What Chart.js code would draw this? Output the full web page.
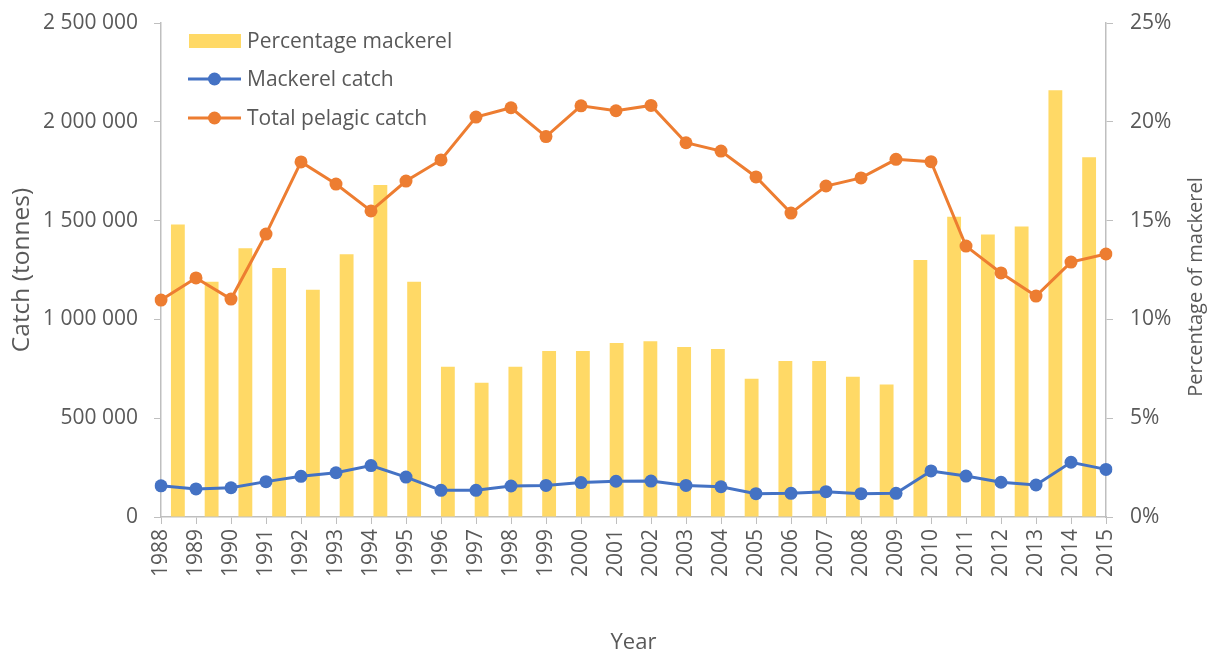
<!DOCTYPE html>
<html>
<head>
<meta charset="utf-8">
<script src="https://cdn.jsdelivr.net/npm/chart.js@4/dist/chart.umd.min.js"></script>
<style>
  html, body { margin: 0; padding: 0; background: #fff; }
  #wrap { position: relative; width: 1211px; height: 654px; }
</style>
</head>
<body>
<div id="wrap"><canvas id="catchChart"></canvas></div>
<script>
// Data
var years = ['1988', '1989', '1990', '1991', '1992', '1993', '1994', '1995', '1996', '1997',
    '1998', '1999', '2000', '2001', '2002', '2003', '2004', '2005', '2006', '2007',
    '2008', '2009', '2010', '2011', '2012', '2013', '2014', '2015'];

var percentageMackerel = [14.8, 11.9, 13.6, 12.6, 11.5, 13.3, 16.8, 11.9, 7.6, 6.8,
    7.6, 8.4, 8.4, 8.8, 8.9, 8.6, 8.5, 7.0, 7.9, 7.9,
    7.1, 6.7, 13.0, 15.2, 14.3, 14.7, 21.6, 18.2];

var mackerelCatch = [158000, 142000, 148000, 179000, 206000, 224000, 260000, 202000, 135000, 135000,
    157000, 160000, 174000, 181000, 182000, 160000, 153000, 118000, 120000, 128000,
    118000, 120000, 233000, 207000, 176000, 162000, 277000, 241000];

var totalPelagicCatch = [1098000, 1210000, 1103000, 1432000, 1797000, 1685000, 1549000, 1700000, 1807000, 2024000,
    2071000, 1925000, 2081000, 2056000, 2083000, 1894000, 1852000, 1721000, 1538000, 1675000,
    1716000, 1810000, 1798000, 1371000, 1235000, 1118000, 1290000, 1331000];

var rightTitle = 'Percentage of mackerel';

var textColor = '#595959';
var axisColor = '#BFBFBF';
var fontFamily = '"Open Sans", sans-serif';

function formatThousands(v) {
    return String(v).replace(/\B(?=(\d{3})+(?!\d))/g, ' ');
}

// Legend inside the plot area, plus the right axis title read bottom to top
var extras = {
    id: 'extras',
    afterDraw: function(chart) {
        var ctx = chart.ctx;
        var rows = [41, 79, 118];
        ctx.save();
        ctx.font = '21px ' + fontFamily;
        ctx.textBaseline = 'middle';
        chart.data.datasets.forEach(function(ds, i) {
            var y = rows[i];
            if (ds.type === 'bar') {
                ctx.fillStyle = ds.backgroundColor;
                ctx.fillRect(189, y - 7, 52, 14);
            } else {
                ctx.strokeStyle = ds.borderColor;
                ctx.lineWidth = 3;
                ctx.beginPath();
                ctx.moveTo(188, y);
                ctx.lineTo(241, y);
                ctx.stroke();
                ctx.fillStyle = ds.borderColor;
                ctx.beginPath();
                ctx.arc(214.5, y, 6.5, 0, Math.PI * 2);
                ctx.fill();
            }
            ctx.fillStyle = textColor;
            ctx.fillText(ds.label, 247, y + 1);
        });

        ctx.translate(1196, 287);
        ctx.rotate(-Math.PI / 2);
        ctx.font = '20px ' + fontFamily;
        ctx.textAlign = 'center';
        ctx.fillStyle = textColor;
        ctx.fillText(rightTitle, 0, 0);
        ctx.restore();
    }
};

var ctx = document.getElementById('catchChart').getContext('2d');
var chart = new Chart(ctx, {
    data: {
        labels: years,
        datasets: [
            {
                type: 'bar',
                label: 'Percentage mackerel',
                data: percentageMackerel,
                backgroundColor: '#FFD966',
                xAxisID: 'x2',
                yAxisID: 'y2',
                grouped: false,
                barPercentage: 0.41,
                categoryPercentage: 1,
                order: 2
            },
            {
                type: 'line',
                label: 'Mackerel catch',
                data: mackerelCatch,
                borderColor: '#4472C4',
                backgroundColor: '#4472C4',
                borderWidth: 3,
                pointRadius: 6.5,
                pointBorderWidth: 0,
                xAxisID: 'x',
                yAxisID: 'y',
                order: 1
            },
            {
                type: 'line',
                label: 'Total pelagic catch',
                data: totalPelagicCatch,
                borderColor: '#ED7D31',
                backgroundColor: '#ED7D31',
                borderWidth: 3,
                pointRadius: 6.5,
                pointBorderWidth: 0,
                xAxisID: 'x',
                yAxisID: 'y',
                order: 0
            }
        ]
    },
    options: {
        responsive: true,
        maintainAspectRatio: false,
        animation: false,
        layout: {
            padding: { top: 0, left: 0, right: 0, bottom: 0 }
        },
        plugins: {
            legend: { display: false },
            tooltip: { enabled: false }
        },
        scales: {
            x: {
                type: 'category',
                offset: false,
                position: 'bottom',
                grid: { drawOnChartArea: false, drawTicks: true, tickLength: 7, color: axisColor },
                border: { color: axisColor, width: 1.5 },
                ticks: {
                    autoSkip: false,
                    maxRotation: 90,
                    minRotation: 90,
                    padding: 5,
                    color: textColor,
                    font: { family: fontFamily, size: 21 }
                },
                title: {
                    display: true,
                    text: 'Year',
                    color: textColor,
                    font: { family: fontFamily, size: 22 },
                    padding: { top: 0, bottom: -2 }
                },
                afterFit: function(scale) { scale.height = 137; }
            },
            x2: {
                type: 'category',
                offset: true,
                display: false
            },
            y: {
                position: 'left',
                min: 0,
                max: 2500000,
                grid: { drawOnChartArea: false, drawTicks: true, tickLength: 7, color: axisColor },
                border: { color: axisColor, width: 1.5 },
                ticks: {
                    stepSize: 500000,
                    padding: 16,
                    color: textColor,
                    font: { family: fontFamily, size: 21 },
                    callback: function(v) { return formatThousands(v); }
                },
                title: {
                    display: true,
                    text: 'Catch (tonnes)',
                    color: textColor,
                    font: { family: fontFamily, size: 24.5 },
                    padding: { top: 7, bottom: 0 }
                },
                afterFit: function(scale) {
                    scale.width = 161;
                    scale.paddingTop = 23;
                }
            },
            y2: {
                position: 'right',
                min: 0,
                max: 25,
                grid: { drawOnChartArea: false, drawTicks: true, tickLength: 7, color: axisColor },
                border: { color: axisColor, width: 1.5 },
                ticks: {
                    stepSize: 5,
                    padding: 17,
                    color: textColor,
                    font: { family: fontFamily, size: 21 },
                    callback: function(v) { return v + '%'; }
                },
                afterFit: function(scale) {
                    scale.width = 105;
                    scale.paddingTop = 23;
                }
            }
        }
    },
    plugins: [extras]
});
</script>
</body>
</html>
